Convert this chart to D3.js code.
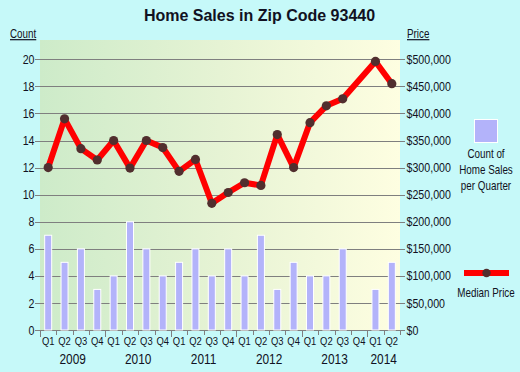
<!DOCTYPE html>
<html>
<head>
<meta charset="utf-8">
<script src="https://cdn.jsdelivr.net/npm/d3@7"></script>
<style>
  html, body { margin: 0; padding: 0; background: #c6f9f9; }
  svg { display: block; font-family: "Liberation Sans", Arial, sans-serif; }
</style>
</head>
<body>
<svg id="chart" width="520" height="372"></svg>
<script>
// ---------- data ----------
const years = ["2009", "2010", "2011", "2012", "2013", "2014"];
const quarters = [
  "2009 Q1","2009 Q2","2009 Q3","2009 Q4",
  "2010 Q1","2010 Q2","2010 Q3","2010 Q4",
  "2011 Q1","2011 Q2","2011 Q3","2011 Q4",
  "2012 Q1","2012 Q2","2012 Q3","2012 Q4",
  "2013 Q1","2013 Q2","2013 Q3","2013 Q4",
  "2014 Q1","2014 Q2"
];
const salesCount = [7, 5, 6, 3, 4, 8, 6, 4, 5, 6, 4, 6, 4, 7, 3, 5, 4, 4, 6, 0, 3, 5];
const medianPrice = [300000, 390000, 335000, 314000, 350000, 299000, 350000, 337000,
                     293000, 315000, 234000, 254000, 272000, 267000, 361000, 300000,
                     383000, 414000, 427000, null, 496000, 455000];
const countTicks = [0, 2, 4, 6, 8, 10, 12, 14, 16, 18, 20];
const priceTicks = [0, 50000, 100000, 150000, 200000, 250000, 300000, 350000, 400000, 450000, 500000];
const titleText = "Home Sales in Zip Code 93440";
const legendCountLines = ["Count of", "Home Sales", "per Quarter"];
const legendPriceText = "Median Price";

// ---------- layout ----------
const L = 40, R = 400, T = 40, B = 330;
const SX = 0.82; // narrow text rendering
const textColor = "#111122";
const gridColor = "#7f7f7f";

const svg = d3.select("#chart");

const defs = svg.append("defs");
const grad = defs.append("linearGradient").attr("id", "bg").attr("x1", 0).attr("x2", 1).attr("y1", 0).attr("y2", 0);
grad.append("stop").attr("offset", "0%").attr("stop-color", "#cdebc9");
grad.append("stop").attr("offset", "50%").attr("stop-color", "#e6f3d4");
grad.append("stop").attr("offset", "100%").attr("stop-color", "#fefee1");

const x = d3.scaleBand().domain(quarters).range([L, R]).padding(0);
const y = d3.scaleLinear().domain([0, 20]).range([B, 59.3]);
const yP = d3.scaleLinear().domain([0, 500000]).range([B, 59.3]);

function ntext(g, px, py, str, size, anchor, weight) {
  return g.append("text")
    .attr("transform", `translate(${px},${py}) scale(${SX},1)`)
    .attr("text-anchor", anchor || "start")
    .attr("font-size", size)
    .attr("font-weight", weight || "normal")
    .attr("fill", textColor)
    .text(str);
}

// plot background
svg.append("rect").attr("x", L).attr("y", T).attr("width", R - L).attr("height", B - T).attr("fill", "url(#bg)");

// gridlines (incl. tick marks on both sides)
svg.append("g").selectAll("line").data(countTicks).join("line")
  .attr("x1", L - 5).attr("x2", R + 5)
  .attr("y1", d => Math.round(y(d)) + 0.5).attr("y2", d => Math.round(y(d)) + 0.5)
  .attr("stroke", gridColor).attr("stroke-width", 1);

// left axis labels
const gl = svg.append("g");
countTicks.forEach(d => ntext(gl, L - 5.5, y(d) + 4.6, String(d), 13, "end"));
// right axis labels
const gr = svg.append("g");
const fmt = d3.format(",");
priceTicks.forEach(d => ntext(gr, R + 6.5, yP(d) + 4.6, "$" + fmt(d), 13, "start"));

// axis titles
ntext(svg, 10, 38, "Count", 12, "start").attr("text-decoration", "underline");
ntext(svg, 407, 38, "Price", 12, "start").attr("text-decoration", "underline");

// bars
const bw = x.bandwidth();
svg.append("g").selectAll("rect").data(quarters.map((q, i) => ({ q, v: salesCount[i] })).filter(d => d.v > 0))
  .join("rect")
  .attr("x", d => x(d.q) + bw / 2 - 3.5)
  .attr("width", 7)
  .attr("y", d => y(d.v))
  .attr("height", d => B - y(d.v))
  .attr("fill", "#b3b3fa")
  .attr("stroke", "#ffffff")
  .attr("stroke-width", 1);

// x ticks
const bounds = quarters.map(q => x(q)).concat([x.range()[1]]);
svg.append("g").selectAll("line").data(bounds).join("line")
  .attr("x1", d => Math.round(d) + 0.5).attr("x2", d => Math.round(d) + 0.5)
  .attr("y1", B).attr("y2", (d, i) => (i % 4 === 0 ? B + 7 : B + 5))
  .attr("stroke", gridColor).attr("stroke-width", 1);

// quarter labels
const gq = svg.append("g");
quarters.forEach(q => ntext(gq, x(q) + bw / 2, 345, q.split(" ")[1], 11.5, "middle"));
// year labels
const gy = svg.append("g");
years.forEach(yr => {
  const qs = quarters.filter(q => q.startsWith(yr));
  const cx = d3.mean(qs, q => x(q) + bw / 2);
  ntext(gy, cx, 363.5, yr, 14.5, "middle");
});

// price line
const pts = quarters.map((q, i) => ({ q, v: medianPrice[i] })).filter(d => d.v !== null);
const line = d3.line().x(d => x(d.q) + bw / 2).y(d => yP(d.v));
svg.append("path").datum(pts).attr("d", line)
  .attr("fill", "none").attr("stroke", "#ff0000").attr("stroke-width", 6).attr("stroke-linejoin", "round");
svg.append("g").selectAll("circle").data(pts).join("circle")
  .attr("cx", d => x(d.q) + bw / 2).attr("cy", d => yP(d.v)).attr("r", 4.6)
  .attr("fill", "#512e2e");

// title
svg.append("text").attr("x", 259.5).attr("y", 20.5).attr("text-anchor", "middle")
  .attr("font-size", 16).attr("font-weight", "bold").attr("fill", textColor).text(titleText);

// legend
svg.append("rect").attr("x", 474.5).attr("y", 119.5).attr("width", 23).attr("height", 23)
  .attr("fill", "#b3b3fa").attr("stroke", "#ffffff").attr("stroke-width", 1);
const glg = svg.append("g");
legendCountLines.forEach((t, i) => ntext(glg, 486, 158 + i * 16, t, 12, "middle"));
svg.append("line").attr("x1", 464).attr("x2", 509).attr("y1", 273).attr("y2", 273)
  .attr("stroke", "#ff0000").attr("stroke-width", 6);
svg.append("circle").attr("cx", 486.5).attr("cy", 273).attr("r", 4.2).attr("fill", "#512e2e");
ntext(glg, 486, 297, legendPriceText, 12, "middle");
</script>
</body>
</html>
